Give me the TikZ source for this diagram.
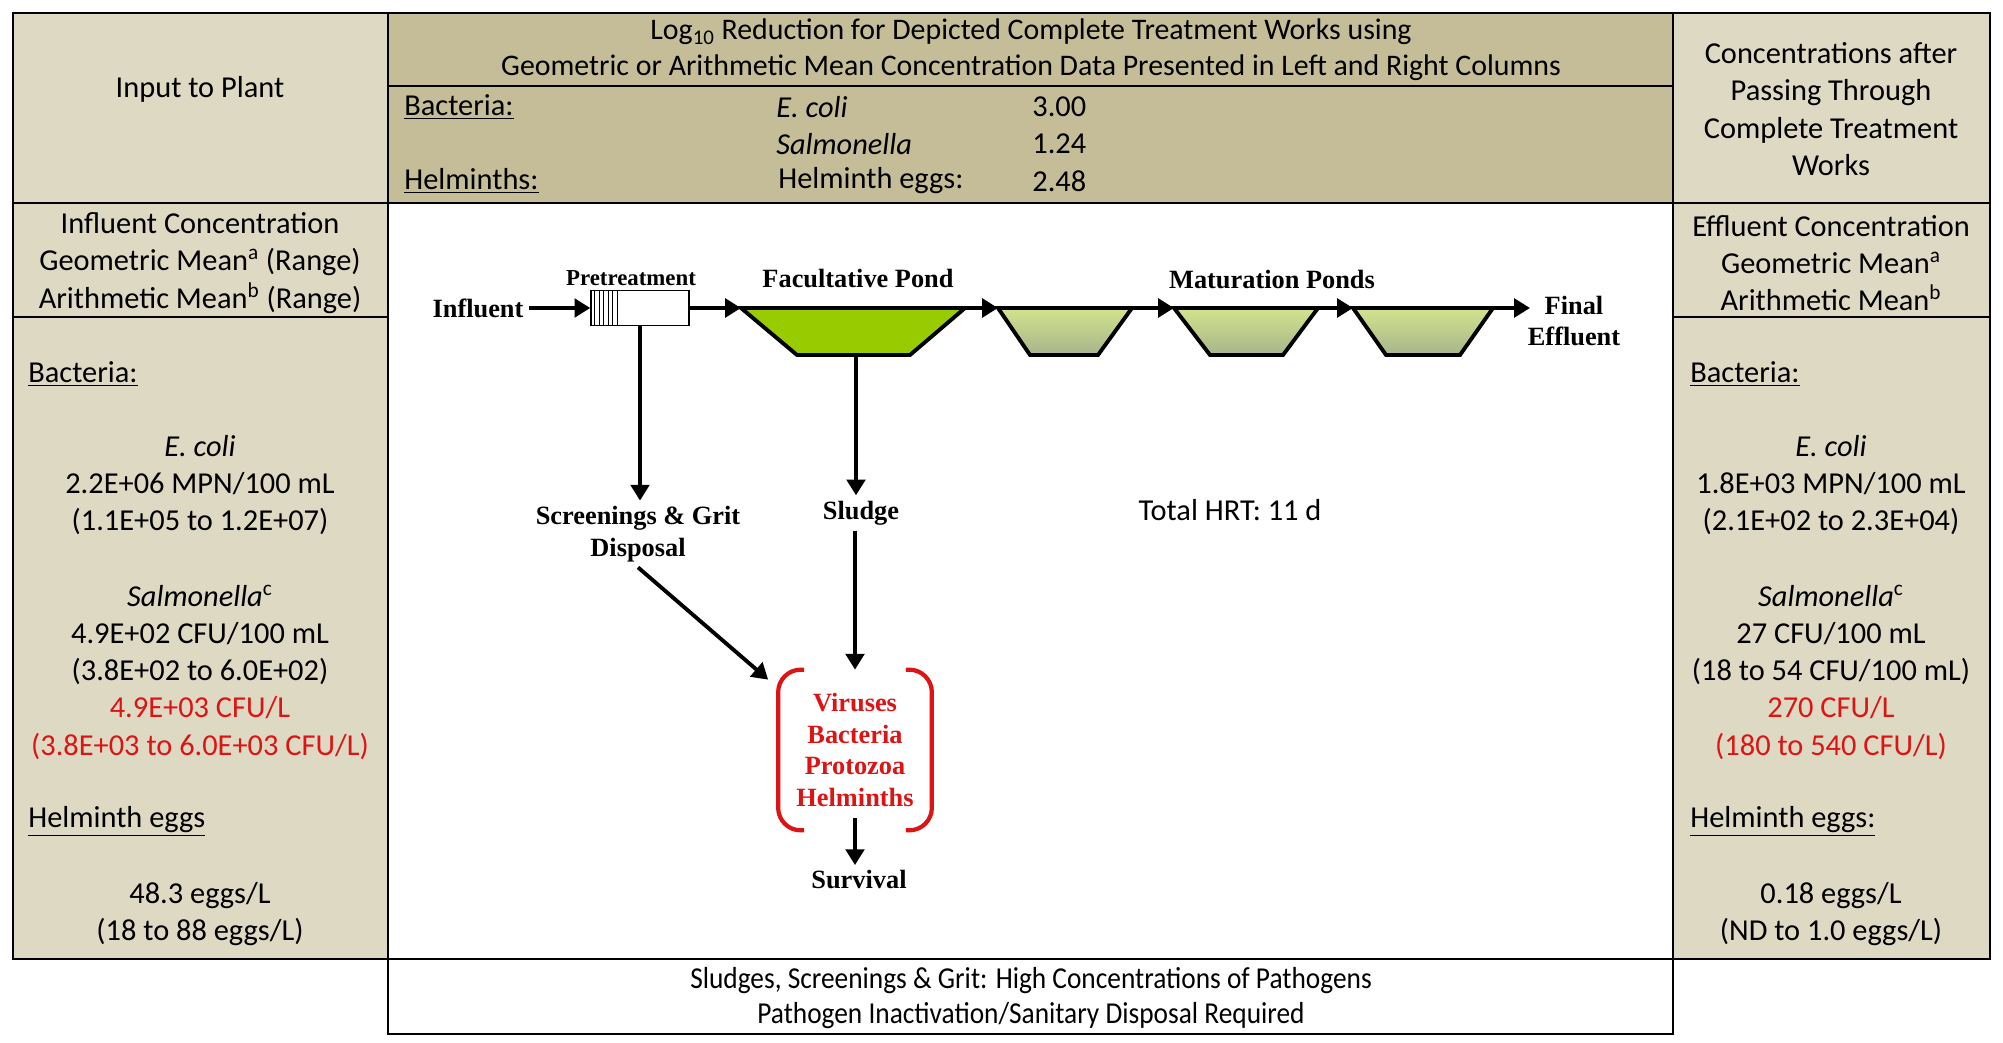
\documentclass[tikz,border=0pt]{standalone}
\usepackage{fontspec}
\setmainfont{Carlito}
\newfontfamily\tnr{Liberation Serif}
\newfontfamily\narrowfont[FakeStretch=0.9]{Carlito}
\usetikzlibrary{arrows.meta, positioning, calc}

\definecolor{sidetan}{RGB}{221,217,195}
\definecolor{midtan}{RGB}{196,189,151}
\definecolor{facgreen}{RGB}{153,204,0}
\definecolor{matlight}{RGB}{210,228,140}
\definecolor{matdark}{RGB}{168,180,140}
\definecolor{pathred}{RGB}{220,20,20}

\begin{document}
\begin{tikzpicture}[x=0.02cm, y=0.02cm,
    tableline/.style={draw=black, line width=1.5pt},
    cal/.style={font=\fontsize{17.3}{21.2}\selectfont, inner sep=0pt, align=center},
    calnar/.style={font=\narrowfont\fontsize{17.3}{20.4}\selectfont, inner sep=0pt, align=center},
    serif/.style={font=\tnr\bfseries\fontsize{15}{18}\selectfont, inner sep=3pt, align=center},
    flow/.style={line width=2.2pt, -{Triangle[length=9pt, width=10.5pt]}},
    pond/.style={draw=black, line width=2.2pt, line join=miter},
    bracketline/.style={draw=pathred, line width=2.4pt, rounded corners=0.45cm}]
    \fill[white] (0,0) rectangle (2003,-1043);
    \useasboundingbox (0,0) rectangle (2003,-1043);

    % table
    \fill[sidetan] (13,-13) rectangle (388,-959);
    \fill[sidetan] (1673,-13) rectangle (1990,-959);
    \fill[midtan] (388,-13) rectangle (1673,-203);
    \draw[tableline] (13,-13) rectangle (1990,-959);
    \draw[tableline] (388,-13) -- (388,-959) (1673,-13) -- (1673,-959);
    \draw[tableline] (13,-203) -- (1990,-203);
    \draw[tableline] (13,-317) -- (388,-317) (1673,-317) -- (1990,-317);
    \draw[tableline] (388,-86) -- (1673,-86);
    \draw[tableline] (388,-959) rectangle (1673,-1034);

    % headers
    \node[cal] (inhead) at (200,-89) {Input to Plant};
    \node[cal] (outhead) at (1831,-109) {Concentrations after\\Passing Through\\Complete Treatment\\Works};
    \node[cal, font=\fontsize{17}{20.4}\selectfont] (title) at (1031,-50) {Log\textsubscript{10} Reduction for Depicted Complete Treatment Works using\\Geometric or Arithmetic Mean Concentration Data Presented in Left and Right Columns};
    \node[cal, anchor=west] (lrbac) at (404,-107) {\underline{Bacteria:}};
    \node[cal, anchor=west] (lrhel) at (404,-181) {\underline{Helminths:}};
    \node[cal, anchor=west] (lrecoli) at (776,-107) {\textit{E. coli}};
    \node[cal, anchor=west] (lrsalm) at (776,-144) {\textit{Salmonella}};
    \node[cal, anchor=west] (lreggs) at (778,-181) {Helminth eggs:};
    \node[cal, anchor=west] (lrv1) at (1032,-107) {3.00};
    \node[cal, anchor=west] (lrv2) at (1032,-144) {1.24};
    \node[cal, anchor=west] (lrv3) at (1032,-181) {2.48};

    \node[cal] (inconc) at (200,-263) {Influent Concentration\\Geometric Mean\textsuperscript{a} (Range)\\Arithmetic Mean\textsuperscript{b} (Range)};
    \node[cal] (outconc) at (1831,-263) {Effluent Concentration\\Geometric Mean\textsuperscript{a}\\Arithmetic Mean\textsuperscript{b}};

    % left column data
    \node[cal, anchor=west] (inbac) at (28,-374) {\underline{Bacteria:}};
    \node[cal] (inecoli) at (200,-485) {\textit{E. coli}\\2.2E+06 MPN/100 mL\\(1.1E+05 to 1.2E+07)};
    \node[cal] (insalm) at (200,-672) {\textit{Salmonella}\textsuperscript{c}\\4.9E+02 CFU/100 mL\\(3.8E+02 to 6.0E+02)\\\textcolor{pathred}{4.9E+03 CFU/L}\\\textcolor{pathred}{(3.8E+03 to 6.0E+03 CFU/L)}};
    \node[cal, anchor=west] (inhel) at (28,-821) {\underline{Helminth eggs}};
    \node[cal] (ineggs) at (200,-914) {48.3 eggs/L\\(18 to 88 eggs/L)};

    % right column data
    \node[cal, anchor=west] (outbac) at (1690,-374) {\underline{Bacteria:}};
    \node[cal] (outecoli) at (1831,-485) {\textit{E. coli}\\1.8E+03 MPN/100 mL\\(2.1E+02 to 2.3E+04)};
    \node[cal] (outsalm) at (1831,-672) {\textit{Salmonella}\textsuperscript{c}\\27 CFU/100 mL\\(18 to 54 CFU/100 mL)\\\textcolor{pathred}{270 CFU/L}\\\textcolor{pathred}{(180 to 540 CFU/L)}};
    \node[cal, anchor=west] (outhel) at (1690,-821) {\underline{Helminth eggs:}};
    \node[cal] (outeggs) at (1831,-914) {0.18 eggs/L\\(ND to 1.0 eggs/L)};

    \node[calnar] (note) at (1031,-998) {Sludges, Screenings \& Grit: High Concentrations of Pathogens\\Pathogen Inactivation/Sanitary Disposal Required};

    % process train
    \node[serif] (influent) at (478,-308) {Influent};
    \node[draw, line width=0.8pt, minimum width=1.96cm, minimum height=0.7cm, inner sep=0pt] (pre) at (640,-308) {};
    \foreach \dx in {4.5,9,...,27}
        \draw[line width=0.6pt] ([xshift=\dx*0.02cm]pre.north west) -- ([xshift=\dx*0.02cm]pre.south west);
    \node[serif, font=\tnr\bfseries\fontsize{13}{15}\selectfont] (pretlbl) at (631,-278) {Pretreatment};

    \draw[pond, fill=facgreen] (741,-308) coordinate (fac1) -- (965,-308) coordinate (fac2)
        -- (910,-355) -- (797,-355) -- cycle;
    \coordinate (facbot) at (856,-355);
    \node[serif] (faclbl) at (858,-279) {Facultative Pond};

    \foreach \i/\xa/\xb/\xc/\xd in {1/998/1132/1098/1030, 2/1174/1318/1283/1210, 3/1353/1493/1460/1386}
        \draw[pond, top color=matlight, bottom color=matdark] (\xa,-308) coordinate (mat\i w)
            -- (\xb,-308) coordinate (mat\i e) -- (\xc,-355) -- (\xd,-355) -- cycle;
    \node[serif] (matlbl) at (1272,-280) {Maturation Ponds};
    \node[serif] (final) at (1574,-321) {Final\\Effluent};
    \coordinate (outlet) at (1530,-308);

    \draw[flow] (influent) -- (pre);
    \draw[flow] (pre.east) -- (fac1);
    \draw[flow] (fac2) -- (mat1w);
    \draw[flow] (mat1e) -- (mat2w);
    \draw[flow] (mat2e) -- (mat3w);
    \draw[flow] (mat3e) -- (outlet);

    % side streams
    \node[serif] (screen) at (638,-534) {Screenings \& Grit\\Disposal};
    \node[serif] (sludge) at (861,-513) {Sludge};
    \node[serif, text=pathred, minimum width=3.06cm, minimum height=3.2cm, inner sep=0pt] (pathogen) at (855,-750) {Viruses\\Bacteria\\Protozoa\\Helminths};
    \node[serif] (survival) at (859,-880) {Survival};
    \node[cal] (hrt) at (1230,-510) {Total HRT: 11 d};

    \draw[bracketline] ([xshift=0.52cm]pathogen.north west) -- (pathogen.north west)
        -- (pathogen.south west) -- ([xshift=0.52cm]pathogen.south west);
    \draw[bracketline] ([xshift=-0.52cm]pathogen.north east) -- (pathogen.north east)
        -- (pathogen.south east) -- ([xshift=-0.52cm]pathogen.south east);

    \draw[flow] (pre.south) -- (pre.south |- screen.north);
    \draw[flow] (facbot) -- (facbot |- sludge.north);
    \draw[flow] (sludge.south -| pathogen) -- (pathogen.north);
    \draw[flow] (screen.south) -- ([xshift=-0.2cm, yshift=-0.2cm]pathogen.north west);
    \draw[flow] ([yshift=0.24cm]pathogen.south) -- (pathogen.south |- survival.north);
\end{tikzpicture}
\end{document}
